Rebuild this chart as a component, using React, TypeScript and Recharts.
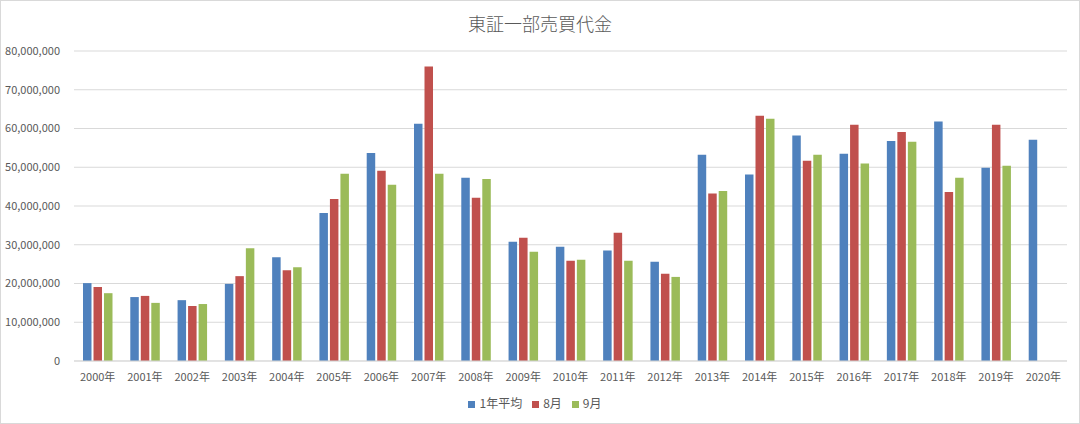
import React from "react";
import {
  BarChart,
  Bar,
  XAxis,
  YAxis,
  CartesianGrid,
  Legend,
} from "recharts";

const years = [
  "2000年", "2001年", "2002年", "2003年", "2004年", "2005年", "2006年",
  "2007年", "2008年", "2009年", "2010年", "2011年", "2012年", "2013年",
  "2014年", "2015年", "2016年", "2017年", "2018年", "2019年", "2020年",
];

// 単位: 百万
const yearAvg = [
  20.1, 16.5, 15.7, 19.9, 26.8, 38.2, 53.7, 61.2, 47.3, 30.8, 29.5,
  28.5, 25.6, 53.2, 48.1, 58.2, 53.5, 56.8, 61.8, 49.9, 57.1,
];
const august = [
  19.1, 16.8, 14.2, 21.9, 23.4, 41.8, 49.1, 76.0, 42.1, 31.8, 25.9,
  33.1, 22.5, 43.2, 63.3, 51.7, 61.0, 59.1, 43.6, 61.0, null,
];
const september = [
  17.5, 15.0, 14.7, 29.1, 24.2, 48.3, 45.5, 48.3, 47.0, 28.2, 26.1,
  25.9, 21.7, 43.9, 62.5, 53.2, 51.0, 56.6, 47.3, 50.4, null,
];

const yTicks = [0, 10000000, 20000000, 30000000, 40000000, 50000000, 60000000, 70000000, 80000000];

const data = years.map((y, i) => ({
  year: y,
  avg: yearAvg[i] * 1000000,
  aug: august[i] == null ? null : (august[i] as number) * 1000000,
  sep: september[i] == null ? null : (september[i] as number) * 1000000,
}));

const font = "'Noto Sans CJK JP', 'Noto Sans', sans-serif";
const textColor = "#595959";

export default function App() {
  return (
    <div
      style={{
        position: "fixed",
        left: 0,
        top: 0,
        width: 1080,
        height: 424,
        background: "#fff",
        fontFamily: font,
        boxSizing: "border-box",
        border: "1px solid #d9d9d9",
      }}
    >
      <div
        style={{
          position: "absolute",
          top: 9,
          left: 0,
          width: 1078,
          textAlign: "center",
          fontSize: 18,
          fontWeight: 300,
          color: textColor,
          lineHeight: "26px",
        }}
      >
        東証一部売買代金
      </div>
      <BarChart
        width={1078}
        height={422}
        data={data}
        margin={{ top: 50, right: 12, bottom: 32, left: 0 }}
        barSize={8.5}
        barGap={2}
        style={{ position: "absolute", left: 0, top: 0 }}
      >
        <CartesianGrid vertical={false} stroke="#d9d9d9" />
        <XAxis
          dataKey="year"
          tickLine={false}
          axisLine={{ stroke: "#d9d9d9" }}
          tick={{ fontSize: 11, fill: textColor, fontFamily: font }}
          height={30}
          interval={0}
          tickMargin={6}
        />
        <YAxis
          domain={[0, 80000000]}
          ticks={yTicks}
          tickLine={false}
          axisLine={false}
          width={73}
          tickMargin={8}
          tick={{ fontSize: 11, fill: textColor, fontFamily: font }}
          tickFormatter={(v: number) => v.toLocaleString("en-US")}
        />
        <Legend
          layout="horizontal"
          verticalAlign="middle"
          align="center"
          iconType="square"
          iconSize={7}
          wrapperStyle={{
            top: 393,
            left: 0,
            width: 1078,
            fontSize: 12,
            fontFamily: font,
          }}
          formatter={(value) => <span style={{ color: textColor }}>{value}</span>}
        />
        <Bar dataKey="avg" name="1年平均" fill="#4f81bd" isAnimationActive={false} />
        <Bar dataKey="aug" name="8月" fill="#c0504d" isAnimationActive={false} />
        <Bar dataKey="sep" name="9月" fill="#9bbb59" isAnimationActive={false} />
      </BarChart>
    </div>
  );
}
